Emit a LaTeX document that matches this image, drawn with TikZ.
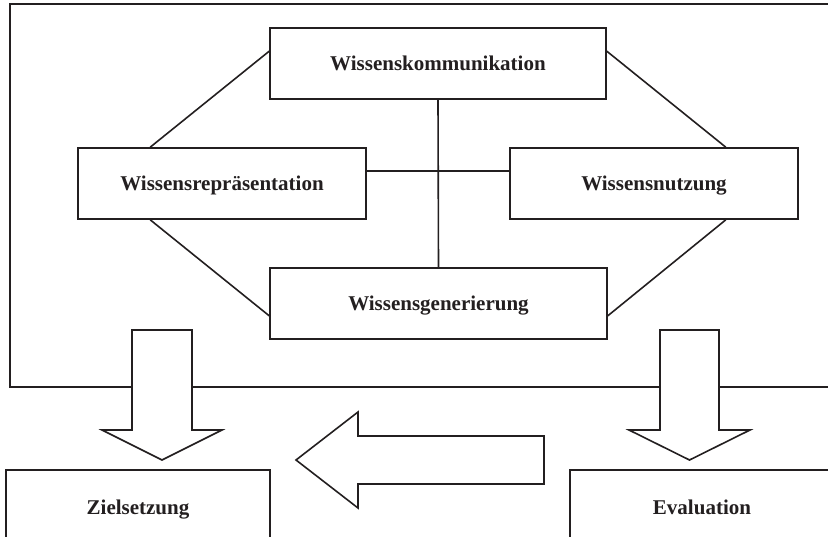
\documentclass[tikz,border=0pt]{standalone}
\usepackage{fontspec}
\setmainfont{Liberation Serif}
\usetikzlibrary{calc}
\definecolor{ink}{HTML}{231F20}
\begin{document}
\begin{tikzpicture}[x=1pt,y=-1pt,
  line width=1.6pt, draw=ink,
  box/.style={draw=ink, fill=white, line width=1.6pt, inner sep=0pt,
    text height=14pt, text depth=0pt,
    minimum height=71pt, font=\fontsize{21}{25}\selectfont\bfseries, text=ink},
  blockarrow/.style={draw=ink, fill=white, line width=1.6pt, line join=miter},
  link/.style={draw=ink, line width=1.6pt}]
\useasboundingbox (0,0) rectangle (828,536);
\clip (0,0) rectangle (828,536);
% outer frame
\draw[link] (830,4) -- (10,4) -- (10,387) -- (830,387);
% main nodes
\node[box, minimum width=336pt] (k) at (438,63.5) {Wissenskommunikation};
\node[box, minimum width=288pt] (r) at (222,183.5) {Wissensrepräsentation};
\node[box, minimum width=288pt] (n) at (654,183.5) {Wissensnutzung};
\node[box, minimum width=337pt] (g) at (438.5,303.5) {Wissensgenerierung};
% connectors
\draw[link] ($(k.north west)+(0,24)$) -- ($(r.north west)+(73,0)$);
\draw[link] ($(k.north east)+(0,24)$) -- ($(n.north east)+(-73,0)$);
\draw[link] ($(g.south west)+(0,-24)$) -- ($(r.south west)+(73,0)$);
\draw[link] ($(g.south east)+(0,-24)$) -- ($(n.south east)+(-73,0)$);
\draw[link] ($(r.north east)+(0,24)$) -- ($(n.north west)+(0,24)$);
\draw[link] (k.south) -- (g.north);
% bottom nodes
\node[box, minimum width=264pt, minimum height=74pt] (z) at (138,507) {Zielsetzung};
\node[box, minimum width=264pt, minimum height=74pt] (e) at (702,507) {Evaluation};
% block arrows
\draw[blockarrow] (132,330) -- (192,330) -- (192,430) -- (222,430) -- (162,460)
  -- (102,430) -- (132,430) -- cycle;
\draw[blockarrow] (660,330) -- (719,330) -- (719,430) -- (750,430) -- (689.5,460)
  -- (629,430) -- (660,430) -- cycle;
\draw[blockarrow] (544,436) -- (358,436) -- (358,412) -- (296,460) -- (358,508)
  -- (358,484) -- (544,484) -- cycle;
\end{tikzpicture}
\end{document}
